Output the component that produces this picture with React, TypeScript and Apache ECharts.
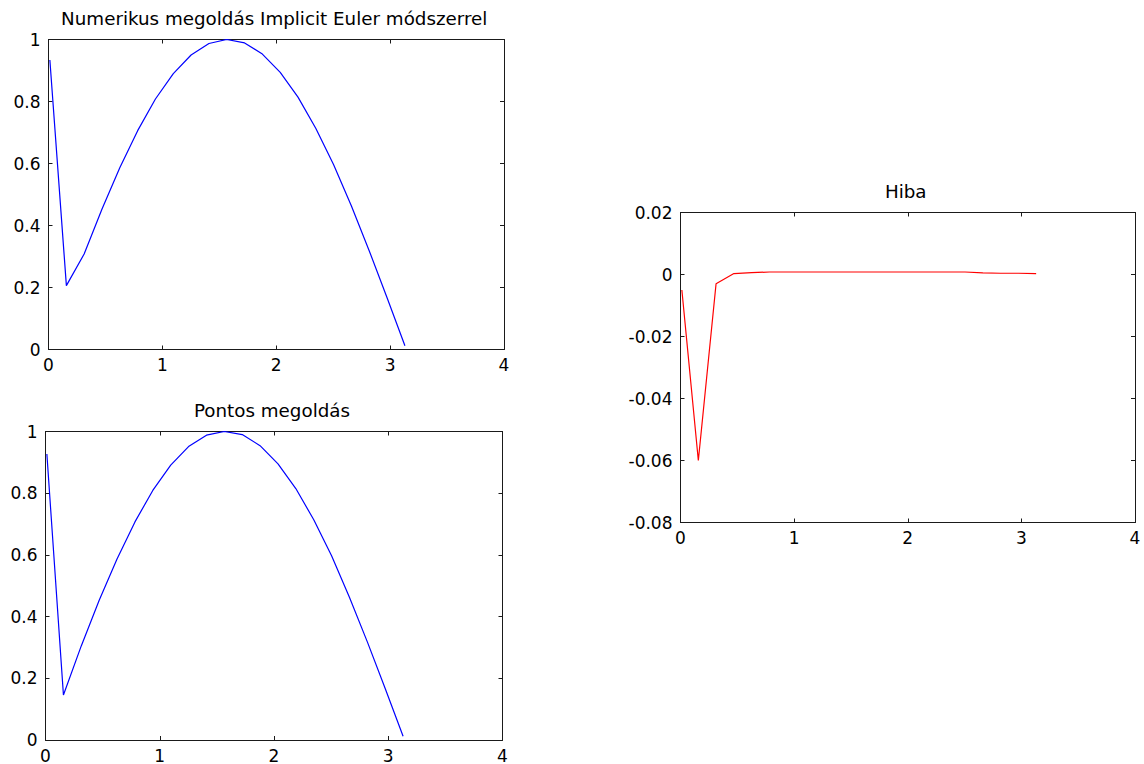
import React, { useEffect, useRef } from "react";
import * as echarts from "echarts";

// Time grid (t) shared by all three plots
const tValues = [0.012, 0.157, 0.313, 0.47, 0.626, 0.783, 0.939, 1.096, 1.252, 1.409, 1.565, 1.722, 1.878, 2.035, 2.191, 2.348, 2.504, 2.661, 2.817, 2.974, 3.13];
// Numerical solution (implicit Euler)
const numericValues = [0.934, 0.206, 0.308, 0.453, 0.586, 0.706, 0.808, 0.89, 0.95, 0.987, 1.0, 0.989, 0.953, 0.894, 0.814, 0.713, 0.596, 0.462, 0.318, 0.166, 0.012];
// Exact solution
const exactValues = [0.927, 0.146, 0.305, 0.453, 0.587, 0.707, 0.809, 0.891, 0.951, 0.988, 1.0, 0.99, 0.954, 0.895, 0.815, 0.714, 0.597, 0.462, 0.318, 0.166, 0.012];
// Error (Hiba)
const errorValues = [-0.005, -0.06, -0.003, 0.0003, 0.0006, 0.0008, 0.0008, 0.0008, 0.0008, 0.0008, 0.0008, 0.0008, 0.0008, 0.0008, 0.0008, 0.0008, 0.0008, 0.0005, 0.0004, 0.0004, 0.0003];

const titles = ["Numerikus megoldás Implicit Euler módszerrel", "Pontos megoldás", "Hiba"];
const xTickRange = { min: 0, max: 4, interval: 1 };
const yTickRangeSol = { min: 0, max: 1, interval: 0.2 };
const yTickRangeErr = { min: -0.08, max: 0.02, interval: 0.02 };

const FONT = "DejaVu Sans";
const AXIS_COLOR = "#1a1a1a";

const grids = [
  { left: 48.5, top: 39.5, width: 455.5, height: 310 },
  { left: 45.5, top: 431.5, width: 457, height: 310 },
  { left: 680.5, top: 212.5, width: 454.5, height: 310 },
];

function fmt(v: number) {
  return String(Math.round(v * 100) / 100);
}

function buildAxes(gi: number, xr: any, yr: any) {
  const common = {
    gridIndex: gi,
    splitLine: { show: false },
    axisLine: { show: true, onZero: false, lineStyle: { color: AXIS_COLOR, width: 1 } },
    axisTick: { show: true, inside: true, length: 4, lineStyle: { color: AXIS_COLOR } },
  };
  const label = { show: true, color: "#000", fontFamily: FONT, fontSize: 17, margin: 7, formatter: fmt };
  const xAxes = [
    { ...common, type: "value", position: "bottom", min: xr.min, max: xr.max, interval: xr.interval, axisLabel: label },
    { ...common, type: "value", position: "top", min: xr.min, max: xr.max, interval: xr.interval, axisLabel: { show: false } },
  ];
  const yAxes = [
    { ...common, type: "value", position: "left", min: yr.min, max: yr.max, interval: yr.interval, axisLabel: { ...label, margin: 8 } },
    { ...common, type: "value", position: "right", min: yr.min, max: yr.max, interval: yr.interval, axisLabel: { show: false } },
  ];
  return { xAxes, yAxes };
}

function pairs(ys: number[]) {
  return tValues.map((t, i) => [t, ys[i]]);
}

export default function App() {
  const ref = useRef<HTMLDivElement>(null);
  useEffect(() => {
    if (!ref.current) return;
    const chart = echarts.init(ref.current, undefined, { renderer: "svg" });
    const a0 = buildAxes(0, xTickRange, yTickRangeSol);
    const a1 = buildAxes(1, xTickRange, yTickRangeSol);
    const a2 = buildAxes(2, xTickRange, yTickRangeErr);
    const xAxis = [...a0.xAxes, ...a1.xAxes, ...a2.xAxes];
    const yAxis = [...a0.yAxes, ...a1.yAxes, ...a2.yAxes];
    const titleTops = [9.5, 401.5, 182.5];
    const option: any = {
      animation: false,
      backgroundColor: "#fff",
      title: titles.map((text, i) => ({
        text,
        left: grids[i].left + grids[i].width / 2 - 2,
        top: titleTops[i],
        textAlign: "center",
        padding: 0,
        textStyle: { fontFamily: FONT, fontSize: 18.3, fontWeight: "normal", color: "#000" },
      })),
      grid: grids.map((g) => ({ ...g, containLabel: false })),
      xAxis,
      yAxis,
      series: [
        { type: "line", xAxisIndex: 0, yAxisIndex: 0, data: pairs(numericValues), showSymbol: false, lineStyle: { color: "#0000ff", width: 1.2 } },
        { type: "line", xAxisIndex: 2, yAxisIndex: 2, data: pairs(exactValues), showSymbol: false, lineStyle: { color: "#0000ff", width: 1.2 } },
        { type: "line", xAxisIndex: 4, yAxisIndex: 4, data: pairs(errorValues), showSymbol: false, lineStyle: { color: "#ff0000", width: 1.2 } },
      ],
    };
    chart.setOption(option);
    return () => chart.dispose();
  }, []);
  return <div ref={ref} style={{ position: "fixed", left: 0, top: 0, width: 1144, height: 764 }} />;
}
